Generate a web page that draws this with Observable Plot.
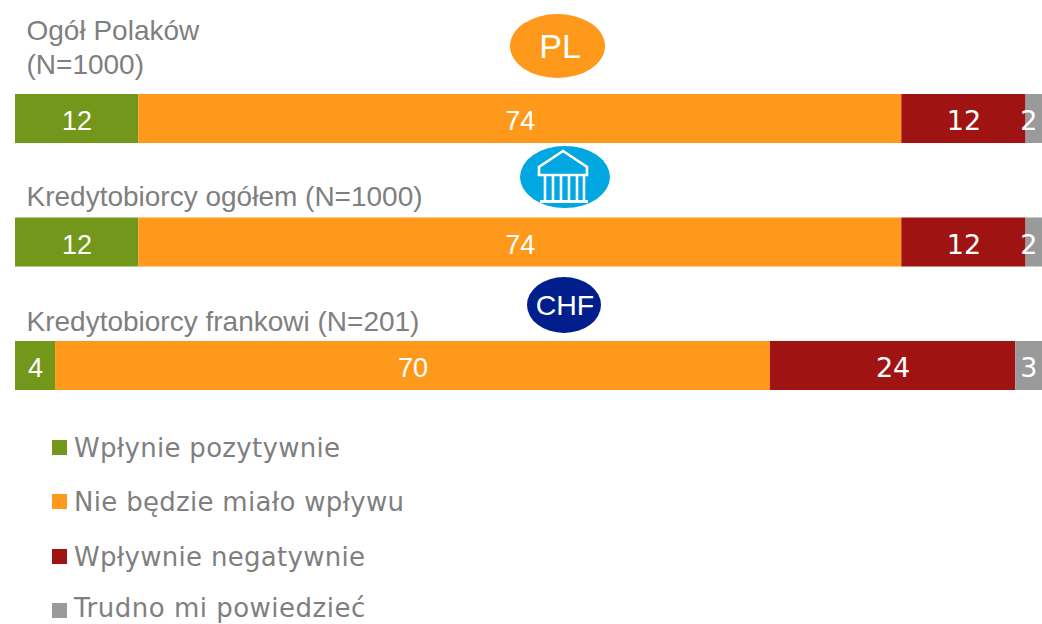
<!DOCTYPE html>
<html><head><meta charset="utf-8">
<script src="https://cdn.jsdelivr.net/npm/d3@7"></script>
<script src="https://cdn.jsdelivr.net/npm/@observablehq/plot@0.6"></script>
<style>
html,body{margin:0;padding:0;background:#fff;overflow:hidden}
#legend{position:relative;margin:0;height:224px}
.row{position:absolute;left:52px;height:30px;font:26px "DejaVu Sans";color:#7f7f7f;letter-spacing:.3px;white-space:nowrap}
.row i{position:absolute;left:0;top:9px;width:15px;height:15px}
.row span{position:absolute;left:22px;top:2px;line-height:30px}
.row.tight span{top:-1px;letter-spacing:.5px}
</style></head><body>
<div id="chart"></div><div id="legend"></div>
<script>
const rows = ["Ogół Polaków (N=1000)", "Kredytobiorcy ogółem (N=1000)", "Kredytobiorcy frankowi (N=201)"];
const rowTitles = ["Ogół Polaków\n(N=1000)", "Kredytobiorcy ogółem (N=1000)", "Kredytobiorcy frankowi (N=201)"];
const categories = ["Wpłynie pozytywnie", "Nie będzie miało wpływu", "Wpływnie negatywnie", "Trudno mi powiedzieć"];
const colors = ["#72971a", "#ff991b", "#a01313", "#9a9a9a"];
const pozytywnie = [12.0, 12.0, 3.9];
const brakWplywu = [74.3, 74.3, 69.6];
const negatywnie = [12.1, 12.1, 23.9];
const trudno = [1.6, 1.6, 2.6];
const series = [pozytywnie, brakWplywu, negatywnie, trudno];
const data = rows.flatMap((r, i) => {
  let x = 0;
  return categories.map((c, j) => {
    const d = {row: r, cat: c, j, value: series[j][i], x1: x, x2: x + series[j][i]};
    x = d.x2;
    return d;
  });
});
const sans = "Liberation Sans", verdana = "DejaVu Sans";
const titleDy = [-45.5, -37, -34.5];
const badge = (index, scales) => {
  const g = d3.create("svg:g");
  const E = (cx, cy, rx, ry, fill) => g.append("ellipse").attr("cx", cx).attr("cy", cy).attr("rx", rx).attr("ry", ry).attr("fill", fill);
  const T = (s, cx, cy, size) => g.append("text").attr("x", cx).attr("y", cy).attr("text-anchor", "middle").attr("font-family", sans).attr("font-size", size).attr("fill", "#fff").text(s);
  E(557.5, 46, 47.5, 32, "#ff991b"); T("PL", 560, 58, 34);
  E(565, 177, 45, 31, "#00a7e1");
  E(564, 305, 37, 28, "#001e8c"); T("CHF", 565, 315, 28.5);
  const p = g.append("g").attr("fill", "none").attr("stroke", "#fff").attr("stroke-width", 2.6);
  p.append("path").attr("d", "M539 175V167L563 151L587 167V175Z");
  for (const x of [545, 553, 561, 569, 577, 584]) p.append("path").attr("d", `M${x} 176V200`);
  p.append("path").attr("d", "M540 201.5H588").attr("stroke-width", 2.8);
  return g.node();
};
const valueText = (filter, fontFamily, fontSize, dy) => Plot.text(data.filter(filter), {
  x: d => (d.x1 + d.x2) / 2, y: "row", text: d => Math.round(d.value),
  fill: "#fff", fontFamily, fontSize, dy
});
const chart = Plot.plot({
  width: 1042, height: 400, margin: 0,
  style: {background: "transparent"},
  x: {domain: [0, 100], range: [15, 1042], axis: null},
  y: {domain: rows, range: [94, 390], paddingInner: 0.603, paddingOuter: 0, round: false, axis: null},
  color: {domain: categories, range: colors},
  marks: [
    Plot.barX(data, {x1: "x1", x2: "x2", y: "row", fill: "cat"}),
    valueText(d => d.j < 2, sans, 27, 2.5),
    valueText(d => d.j === 2, verdana, 27, 2.5),
    Plot.text(data.filter(d => d.j === 3), {x: "x2", y: "row", text: d => Math.round(d.value), fill: "#fff", fontSize: 27, fontFamily: verdana, textAnchor: "end", dx: -5, dy: 2.5}),
    ...rows.map((r, i) => Plot.text([r], {
      x: 0, y: d => d, text: () => rowTitles[i], textAnchor: "start", lineAnchor: "bottom", dx: 11, dy: titleDy[i],
      fontSize: 28, fontFamily: sans, fill: "#7f7f7f", lineHeight: 1.18
    })),
    badge
  ]
});
document.getElementById("chart").appendChild(chart);
const lg = document.getElementById("legend");
categories.forEach((c, i) => {
  const el = document.createElement("div");
  el.className = i === 3 ? "row tight" : "row";
  el.style.top = (31 + i * 54.4) + "px";
  el.innerHTML = `<i style="background:${colors[i]}"></i><span>${c}</span>`;
  lg.appendChild(el);
});
</script></body></html>
